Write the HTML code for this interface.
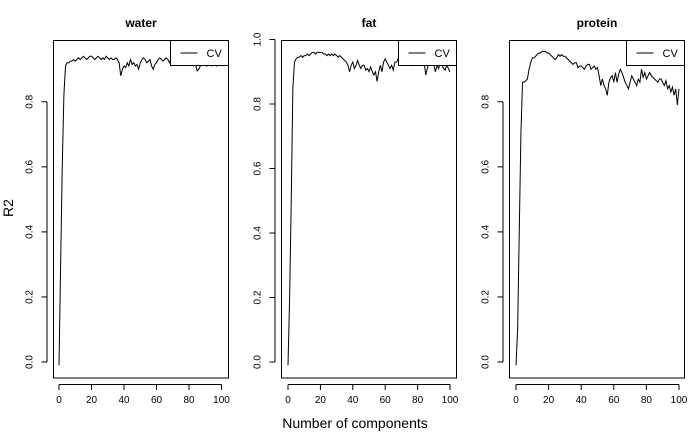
<!DOCTYPE html>
<html><head><meta charset="utf-8"><style>
html,body{margin:0;padding:0;background:#fff;}
svg{display:block;font-family:"Liberation Sans",Arial,sans-serif;}
</style></head><body>
<svg id="c" width="700" height="432">
<text x="13" y="208" font-size="14" text-anchor="middle" transform="rotate(-90 13 208)">R2</text>
<text x="355" y="428" font-size="14" text-anchor="middle">Number of components</text>
</svg>
<script>
const xTicks=[0,20,40,60,80,100];
const yTicksA=[0.0,0.2,0.4,0.6,0.8];
const yTicksB=[0.0,0.2,0.4,0.6,0.8,1.0];
const titles=["water","fat","protein"];
const water=[-0.01,0.3,0.6,0.82,0.91,0.92,0.92,0.925,0.925,0.93,0.925,0.93,0.935,0.93,0.935,0.94,0.935,0.93,0.935,0.94,0.94,0.935,0.93,0.935,0.94,0.935,0.93,0.935,0.93,0.94,0.935,0.93,0.935,0.93,0.93,0.935,0.93,0.92,0.88,0.9,0.91,0.905,0.92,0.91,0.93,0.915,0.92,0.91,0.915,0.9,0.92,0.93,0.935,0.93,0.92,0.925,0.93,0.91,0.9,0.915,0.92,0.93,0.935,0.93,0.925,0.93,0.935,0.93,0.92,0.93,0.925,0.93,0.92,0.93,0.925,0.93,0.92,0.925,0.93,0.92,0.925,0.93,0.92,0.91,0.915,0.895,0.9,0.91,0.92,0.915,0.92,0.91,0.92,0.915,0.91,0.92,0.915,0.91,0.92,0.915,0.91];
const fat=[-0.01,0.2,0.5,0.85,0.93,0.94,0.945,0.945,0.95,0.945,0.95,0.95,0.955,0.95,0.955,0.96,0.96,0.955,0.96,0.96,0.96,0.96,0.955,0.955,0.95,0.955,0.95,0.955,0.95,0.955,0.95,0.945,0.95,0.945,0.94,0.935,0.93,0.92,0.9,0.92,0.93,0.91,0.92,0.935,0.92,0.91,0.92,0.92,0.905,0.91,0.9,0.915,0.9,0.89,0.9,0.87,0.9,0.92,0.9,0.93,0.94,0.93,0.92,0.91,0.92,0.905,0.93,0.93,0.94,0.93,0.92,0.93,0.93,0.935,0.93,0.93,0.92,0.935,0.93,0.925,0.93,0.925,0.93,0.92,0.93,0.89,0.91,0.93,0.925,0.93,0.92,0.9,0.92,0.91,0.93,0.92,0.91,0.905,0.92,0.91,0.9];
const protein=[-0.01,0.1,0.4,0.7,0.86,0.86,0.865,0.87,0.9,0.92,0.935,0.935,0.94,0.945,0.95,0.95,0.955,0.955,0.955,0.95,0.95,0.945,0.94,0.935,0.93,0.935,0.945,0.94,0.945,0.94,0.94,0.935,0.93,0.925,0.92,0.915,0.92,0.92,0.905,0.91,0.91,0.905,0.9,0.91,0.915,0.915,0.9,0.905,0.91,0.9,0.905,0.88,0.85,0.87,0.85,0.84,0.82,0.86,0.875,0.88,0.86,0.89,0.86,0.885,0.9,0.89,0.875,0.86,0.85,0.84,0.86,0.88,0.87,0.86,0.85,0.87,0.86,0.9,0.875,0.89,0.87,0.88,0.89,0.88,0.875,0.87,0.865,0.86,0.87,0.87,0.86,0.85,0.865,0.84,0.85,0.83,0.845,0.82,0.84,0.79,0.84];
const series=[water,fat,protein];
const tickSets=[yTicksA,yTicksB,yTicksA];
const panels=[
 {bx:53.5,bw:175,x0:59,x1:221.5,y0:362,yTop:36.75},
 {bx:281.5,bw:175,x0:288,x1:450,y0:362,yTop:39.5},
 {bx:509.5,bw:175,x0:516,x1:679,y0:362,yTop:36.75}
];
const svg=document.getElementById('c');
const NS='http://www.w3.org/2000/svg';
function mk(t,a,p){const e=document.createElementNS(NS,t);for(const k in a)e.setAttribute(k,a[k]);(p||svg).appendChild(e);return e;}
panels.forEach((p,i)=>{
 const g=mk('g',{});
 
 
 const sx=v=>p.x0+(p.x1-p.x0)*v/100;
 const sy=v=>p.y0+(p.yTop-p.y0)*v;
 const box=mk('rect',{x:p.bx,y:40.5,width:p.bw,height:337.5,fill:'none',stroke:'#000','stroke-width':1},g);
 
 
 const t=mk('text',{x:p.bx+p.bw/2,y:27,'font-size':12,'font-weight':'bold','text-anchor':'middle'},g);
 t.textContent=titles[i];
 
 
 mk('line',{x1:sx(0),x2:sx(100),y1:384.5,y2:384.5,stroke:'#000'},g);
 xTicks.forEach(v=>{
  mk('line',{x1:sx(v),x2:sx(v),y1:384.5,y2:390,stroke:'#000'},g);
  const l=mk('text',{x:sx(v),y:403,'font-size':10,'text-anchor':'middle'},g);
  l.textContent=v;
  
  
 });
 const yt=tickSets[i];
 mk('line',{x1:p.bx-6.5,x2:p.bx-6.5,y1:sy(yt[0]),y2:sy(yt[yt.length-1]),stroke:'#000'},g);
 yt.forEach(v=>{
  const y=sy(v);
  mk('line',{x1:p.bx-6.5,x2:p.bx-12,y1:y,y2:y,stroke:'#000'},g);
  const lx=p.bx-21;
  const l=mk('text',{x:lx,y:y,'font-size':10,'text-anchor':'middle',transform:`rotate(-90 ${lx} ${y})`},g);
  l.textContent=v.toFixed(1);
  
  
 });
 const d=series[i].map((v,k)=>(k?'L':'M')+sx(k).toFixed(2)+','+sy(v).toFixed(2)).join('');
 const ln=mk('path',{d:d,fill:'none',stroke:'#000','stroke-width':1},g);
 
 
 const lg=mk('g',{},g);
 
 
 const lx0=p.bx+p.bw-58;
 mk('rect',{x:lx0,y:40.5,width:58,height:25,fill:'#fff',stroke:'#000'},lg);
 mk('line',{x1:lx0+10,x2:lx0+27,y1:53,y2:53,stroke:'#000'},lg);
 const lt=mk('text',{x:lx0+36,y:57,'font-size':11},lg);
 lt.textContent='CV';
});
</script>
</body></html>
